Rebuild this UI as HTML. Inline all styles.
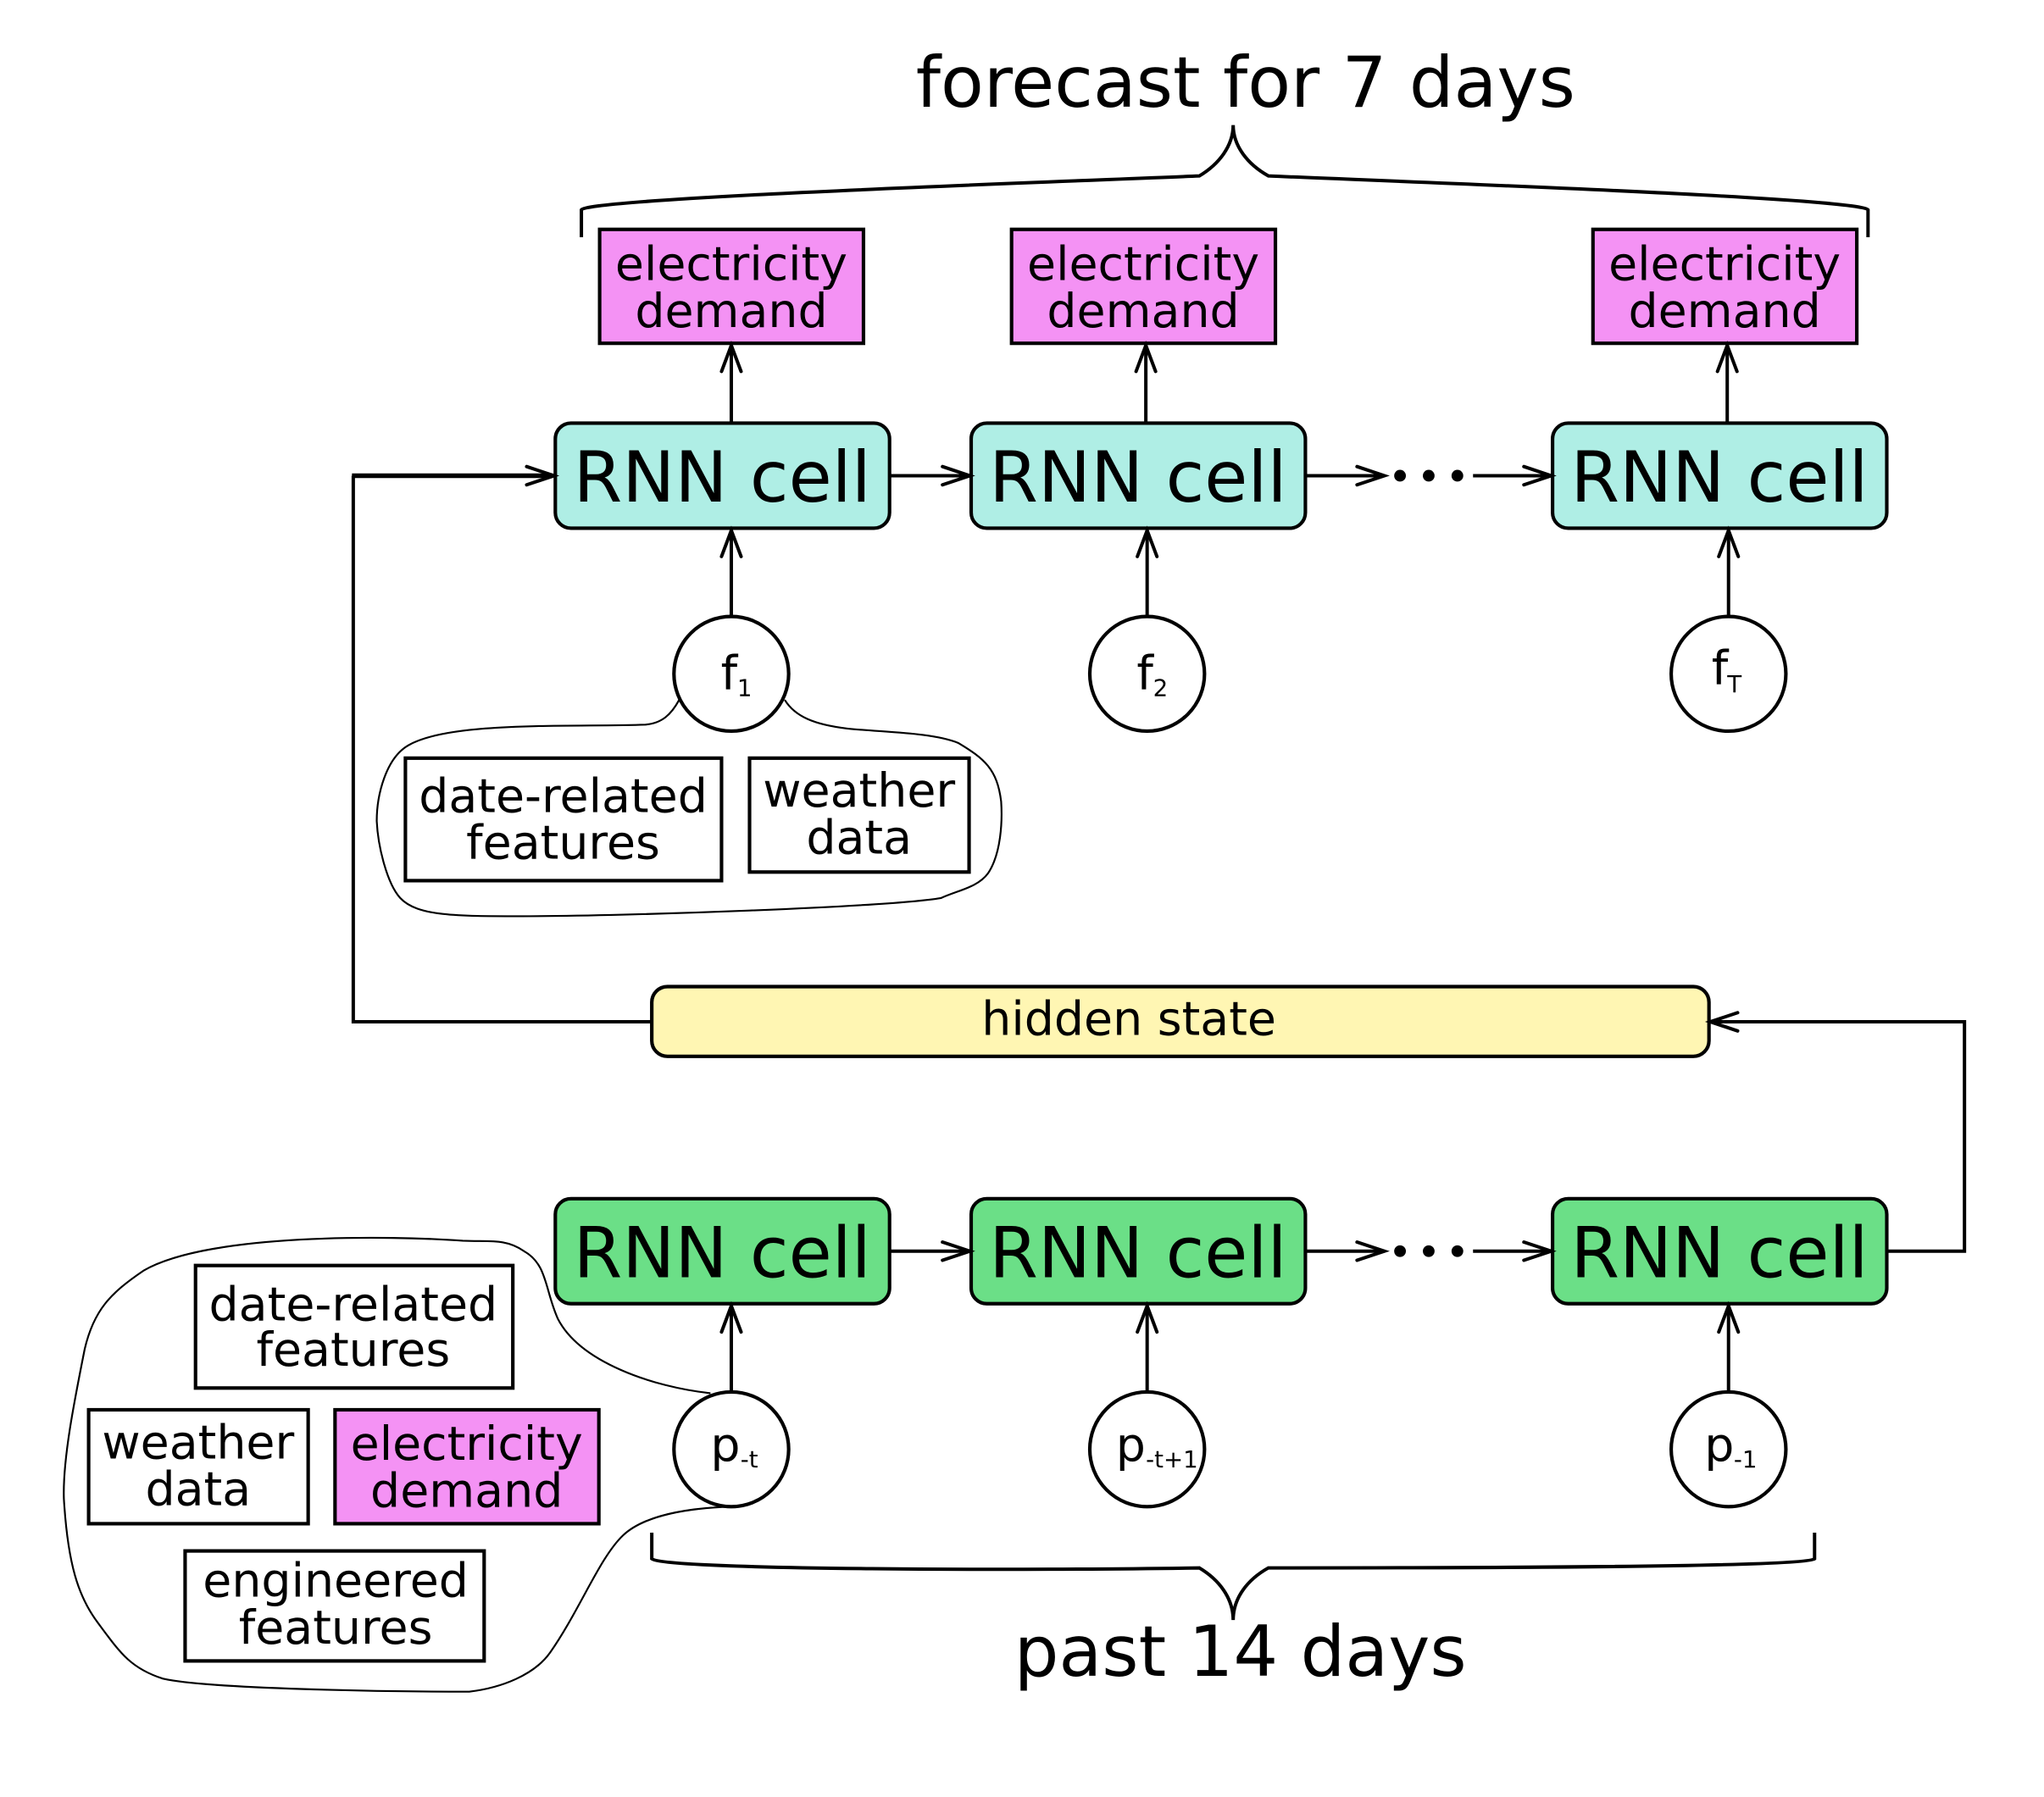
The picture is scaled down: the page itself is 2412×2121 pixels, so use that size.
<!DOCTYPE html>
<html><head><meta charset="utf-8"><style>
html,body{margin:0;padding:0;background:#fff}
svg{display:block}
text{font-family:"DejaVu Sans","Liberation Sans",sans-serif;fill:#000}
.t54{font-size:54px;text-anchor:middle}
.t36{font-size:36px;text-anchor:middle}
.s18{font-size:18px}
.b{stroke:#000;stroke-width:2.7;stroke-linejoin:miter}
.l{stroke:#000;stroke-width:2.6;fill:none;stroke-linecap:butt}
.a{stroke:#000;stroke-width:2.6;fill:none;stroke-linecap:round;stroke-linejoin:miter}
.blob{stroke:#000;stroke-width:1.4;fill:none}
</style></head><body>
<svg xmlns="http://www.w3.org/2000/svg" width="2412" height="2121" viewBox="0 0 1568 1378.8" preserveAspectRatio="none">
<rect width="1568" height="1379" fill="#fff"/>

<!-- top brace -->
<path class="l" d="M446,182 V161 C452,152 800,140 920,135 C935,126 946,112 946,96 C946,112 957,126 973,135 C1090,140 1427,152 1433,161 V182"/>
<text class="t54" x="955.5" y="82">forecast for 7 days</text>

<!-- blobs -->
<path class="blob" d="M521,537 C515,548 508,555 495,556 C440,558 345,553 313,572 C296,582 289,610 289,630 C290,650 297,678 307,689 C320,703 350,703 400,703 C480,703 680,696 722,689 C735,683 750,681 758,670 C768,655 769,630 768,615 C765,590 755,582 735,570 C715,562 680,562 650,559 C625,556 610,550 602,537"/>
<path class="blob" d="M545,1069 C500,1064 445,1045 428,1012 C418,990 420,970 402,960 C388,950 375,953 355,952 C300,948 160,946 110,975 C85,992 72,1005 65,1035 C57,1075 48,1120 49,1150 C52,1200 60,1225 75,1245 C92,1268 100,1280 125,1288 C160,1296 300,1298 360,1298 C385,1295 410,1285 422,1268 C445,1235 460,1195 478,1178 C495,1162 530,1157 561,1156"/>

<!-- purple boxes -->
<rect class="b" x="460" y="176" width="202.4" height="87.4" fill="#f492f4"/>
<text class="t36" x="561" y="215">electricity</text><text class="t36" x="561" y="251">demand</text>
<rect class="b" x="776" y="176" width="202.4" height="87.4" fill="#f492f4"/>
<text class="t36" x="877" y="215">electricity</text><text class="t36" x="877" y="251">demand</text>
<rect class="b" x="1222" y="176" width="202.4" height="87.4" fill="#f492f4"/>
<text class="t36" x="1323" y="215">electricity</text><text class="t36" x="1323" y="251">demand</text>

<!-- top arrows up -->
<path class="l" d="M561,325 V265 M879,325 V265 M1325,325 V265"/>
<path class="a" d="M553.5,285 L561,265 L568.5,285 M871.5,285 L879,265 L886.5,285 M1317.5,285 L1325,265 L1332.5,285"/>

<!-- top RNN -->
<rect class="b" x="426" y="324.7" width="256.4" height="80.6" rx="12" fill="#afeee5"/>
<text class="t54" x="554" y="385">RNN cell</text>
<rect class="b" x="745" y="324.7" width="256.4" height="80.6" rx="12" fill="#afeee5"/>
<text class="t54" x="873" y="385">RNN cell</text>
<rect class="b" x="1191" y="324.7" width="256.4" height="80.6" rx="12" fill="#afeee5"/>
<text class="t54" x="1319" y="385">RNN cell</text>

<path class="l" d="M683,365 H744 M1002,365 H1062 M1130,365 H1190"/>
<path class="a" d="M723,358 L744,365 L723,372 M1041,358 L1062,365 L1041,372 M1169,358 L1190,365 L1169,372"/>
<circle cx="1074" cy="365" r="4.5"/><circle cx="1096" cy="365" r="4.5"/><circle cx="1118" cy="365" r="4.5"/>

<!-- f arrows -->
<path class="l" d="M561,473 V407 M880,473 V407 M1326,473 V407"/>
<path class="a" d="M553.5,427 L561,407 L568.5,427 M872.5,427 L880,407 L887.5,427 M1318.5,427 L1326,407 L1333.5,427"/>

<circle class="b" cx="561" cy="517" r="44" fill="#fff"/>
<circle class="b" cx="880" cy="517" r="44" fill="#fff"/>
<circle class="b" cx="1326" cy="517" r="44" fill="#fff"/>
<text x="553" y="529" font-size="36">f</text><text class="s18" x="565.5" y="534">1</text>
<text x="872" y="529" font-size="36">f</text><text class="s18" x="884.5" y="534">2</text>
<text x="1313" y="525" font-size="36">f</text><text class="s18" x="1325" y="531">T</text>

<!-- feature boxes top -->
<rect class="b" x="311" y="581.7" width="242.5" height="94" fill="#fff"/>
<text class="t36" x="432" y="623">date-related</text><text class="t36" x="432" y="659">features</text>
<rect class="b" x="575" y="581.7" width="168.4" height="87.4" fill="#fff"/>
<text class="t36" x="659" y="619">weather</text><text class="t36" x="659" y="655">data</text>

<!-- hidden state + connectors -->
<path class="l" d="M500,784 H271 V365"/>
<path class="l" d="M270,365 H424" style="stroke-width:3.6"/>
<path class="a" d="M404,358 L425,365 L404,372"/>
<rect class="b" x="500" y="757" width="811" height="53.5" rx="12" fill="#fff6b3"/>
<text class="t36" x="866" y="794">hidden state</text>
<path class="l" d="M1448,960 H1507 V784 H1313"/>
<path class="a" d="M1333,777 L1312,784 L1333,791"/>

<!-- bottom RNN -->
<rect class="b" x="426" y="919.7" width="256.4" height="80.6" rx="12" fill="#6bdf87"/>
<text class="t54" x="554" y="980">RNN cell</text>
<rect class="b" x="745" y="919.7" width="256.4" height="80.6" rx="12" fill="#6bdf87"/>
<text class="t54" x="873" y="980">RNN cell</text>
<rect class="b" x="1191" y="919.7" width="256.4" height="80.6" rx="12" fill="#6bdf87"/>
<text class="t54" x="1319" y="980">RNN cell</text>

<path class="l" d="M683,960 H744 M1002,960 H1062 M1130,960 H1190"/>
<path class="a" d="M723,953 L744,960 L723,967 M1041,953 L1062,960 L1041,967 M1169,953 L1190,960 L1169,967"/>
<circle cx="1074" cy="960" r="4.5"/><circle cx="1096" cy="960" r="4.5"/><circle cx="1118" cy="960" r="4.5"/>

<path class="l" d="M561,1068 V1002 M880,1068 V1002 M1326,1068 V1002"/>
<path class="a" d="M553.5,1022 L561,1002 L568.5,1022 M872.5,1022 L880,1002 L887.5,1022 M1318.5,1022 L1326,1002 L1333.5,1022"/>

<circle class="b" cx="561" cy="1112" r="44" fill="#fff"/>
<circle class="b" cx="880" cy="1112" r="44" fill="#fff"/>
<circle class="b" cx="1326" cy="1112" r="44" fill="#fff"/>
<text x="545" y="1121" font-size="36">p</text><text class="s18" x="568" y="1126">-t</text>
<text x="856" y="1121" font-size="36">p</text><text class="s18" x="879" y="1126">-t+1</text>
<text x="1307.5" y="1121" font-size="36">p</text><text class="s18" x="1330" y="1126">-1</text>

<!-- feature boxes bottom -->
<rect class="b" x="150" y="971" width="243.4" height="94" fill="#fff"/>
<text class="t36" x="271" y="1013">date-related</text><text class="t36" x="271" y="1048">features</text>
<rect class="b" x="68" y="1081.7" width="168.4" height="87.4" fill="#fff"/>
<text class="t36" x="152" y="1119">weather</text><text class="t36" x="152" y="1155">data</text>
<rect class="b" x="257" y="1081.7" width="202.4" height="87.4" fill="#f492f4"/>
<text class="t36" x="358" y="1120">electricity</text><text class="t36" x="358" y="1156">demand</text>
<rect class="b" x="142" y="1190" width="229.4" height="84.4" fill="#fff"/>
<text class="t36" x="257.5" y="1225">engineered</text><text class="t36" x="257.5" y="1261">features</text>

<!-- bottom brace -->
<path class="l" d="M500,1176 V1196 C510,1205 800,1205 920,1203 C935,1212 946,1226 946,1243 C946,1226 957,1212 973,1203 C1090,1203 1385,1203 1392,1196 V1176"/>
<text class="t54" x="951.5" y="1286">past 14 days</text>
</svg>
</body></html>
